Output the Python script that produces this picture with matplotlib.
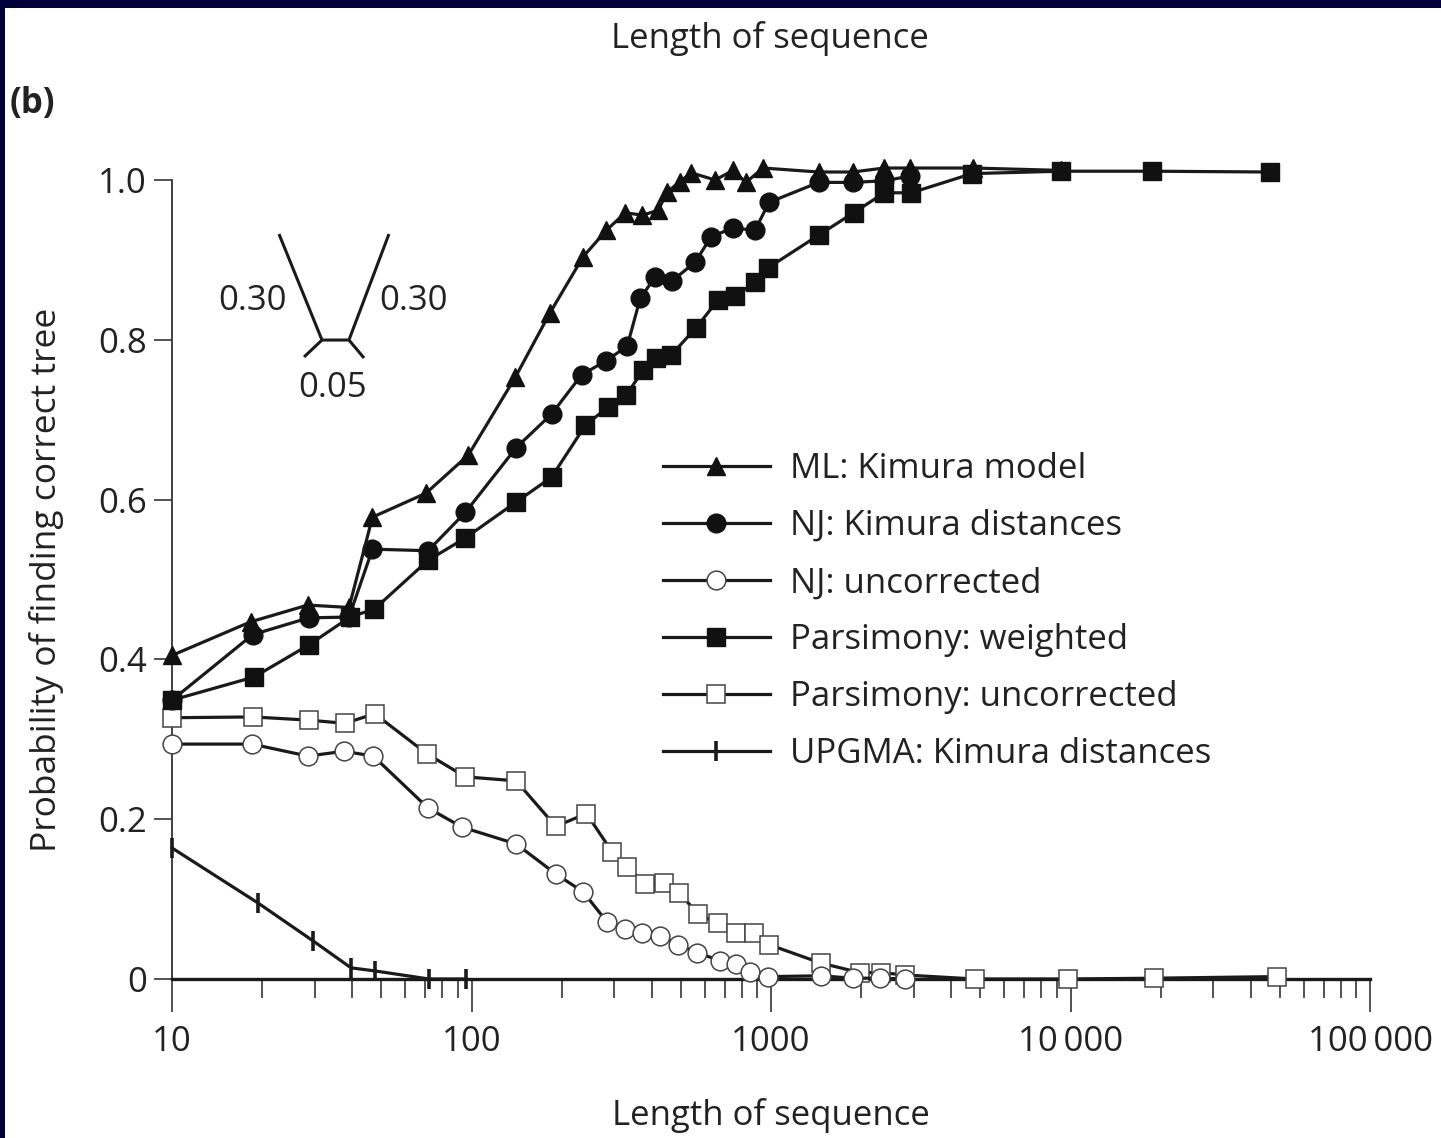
import matplotlib
matplotlib.use('Agg')
import matplotlib.pyplot as plt
from matplotlib.patches import Rectangle
from matplotlib.lines import Line2D
from matplotlib.ticker import LogLocator, NullFormatter

plt.rcParams['font.family'] = ['Open Sans', 'DejaVu Sans']

# ---------------- data ----------------
ml_x = [10, 18.3, 28.4, 39.0, 46.7, 70.5, 97.7, 140, 183, 236, 282, 326, 372, 420,
        450, 497, 541, 651, 747, 825, 940, 1443, 1873, 2391, 2918, 4725, 9265]
ml_y = [0.405, 0.447, 0.468, 0.465, 0.578, 0.608, 0.656, 0.753, 0.834, 0.904, 0.937,
        0.959, 0.956, 0.962, 0.985, 0.998, 1.009, 1.0, 1.012, 0.997, 1.015, 1.01,
        1.01, 1.015, 1.015, 1.015, 1.012]

nj_x = [10, 18.6, 28.6, 39.0, 46.7, 71.6, 95.4, 141, 185, 233, 282, 331, 366, 411,
        468, 558, 631, 747, 884, 985, 1443, 1873, 2391, 2918]
nj_y = [0.349, 0.431, 0.452, 0.453, 0.538, 0.536, 0.584, 0.665, 0.707, 0.756, 0.774,
        0.792, 0.852, 0.879, 0.874, 0.897, 0.929, 0.940, 0.937, 0.972, 0.997, 0.997,
        0.999, 1.005]

nju_x = [10, 18.5, 28.4, 37.5, 47.0, 71.6, 93.1, 141, 192, 236, 284, 326, 372, 427,
         490, 566, 675, 763, 850, 977, 1466, 1873, 2320, 2810]
nju_y = [0.294, 0.294, 0.279, 0.285, 0.279, 0.214, 0.190, 0.169, 0.131, 0.109, 0.071,
         0.063, 0.058, 0.054, 0.043, 0.033, 0.023, 0.019, 0.009, 0.003, 0.004, 0.001,
         0.001, 0.0]

pw_x = [10, 18.8, 28.6, 39.3, 47.4, 71.6, 95.4, 141, 185, 240, 286, 329, 374, 414,
        464, 562, 666, 759, 884, 977, 1443, 1887, 2391, 2940, 4690, 9265, 18680, 46300]
pw_y = [0.349, 0.378, 0.418, 0.453, 0.463, 0.524, 0.552, 0.597, 0.628, 0.693, 0.716,
        0.731, 0.762, 0.777, 0.781, 0.815, 0.850, 0.855, 0.872, 0.890, 0.931, 0.959,
        0.984, 0.984, 1.008, 1.011, 1.011, 1.010]

pu_x = [10, 18.6, 28.6, 37.8, 47.5, 70.9, 95.4, 141, 191, 242, 295, 331, 380, 440,
        494, 571, 666, 763, 878, 985, 1466, 1976, 2336, 2810, 4794, 9773, 18970, 48790]
pu_y = [0.327, 0.328, 0.324, 0.320, 0.332, 0.282, 0.253, 0.248, 0.191, 0.207, 0.159,
        0.140, 0.119, 0.120, 0.108, 0.081, 0.070, 0.058, 0.058, 0.043, 0.020, 0.008,
        0.008, 0.005, 0.0, 0.0, 0.001, 0.003]

up_x = [10, 19.4, 29.5, 39.6, 47.8, 72.1, 96.1]
up_y = [0.164, 0.095, 0.048, 0.014, 0.010, 0.0, 0.0]

labels = ['ML: Kimura model', 'NJ: Kimura distances', 'NJ: uncorrected',
          'Parsimony: weighted', 'Parsimony: uncorrected', 'UPGMA: Kimura distances']

x_ticks = [10, 100, 1000, 10000, 100000]
x_ticklabels = ['10', '100', '1000', '10\u2009000', '100\u2009000']
y_ticks = [0, 0.2, 0.4, 0.6, 0.8, 1.0]
y_ticklabels = ['0', '0.2', '0.4', '0.6', '0.8', '1.0']

# ---------------- figure ----------------
W, H = 1441, 1138
fig = plt.figure(figsize=(W / 100, H / 100), dpi=100, facecolor='#00003a')
fig.patches.append(Rectangle((5 / W, 0), (W - 5) / W, (H - 8) / H,
                             transform=fig.transFigure, facecolor='white',
                             edgecolor='none', zorder=-10))

ax = fig.add_axes([172 / W, (H - 979) / H, 1198 / W, 799 / H])
ax.set_facecolor('none')
ax.set_xscale('log')
ax.set_xlim(10, 1e5)
ax.set_ylim(0, 1)

INK = '#1a1a1a'
TXT = '#222222'
LW = 2.3
FS = 25

common = dict(color=INK, lw=LW, clip_on=False)
ax.plot(pu_x, pu_y, marker='s', ms=13.5, mfc='white', mec='#444444', mew=1.1,
        zorder=3, **common)
ax.plot(nju_x, nju_y, marker='o', ms=13.5, mfc='white', mec='#444444', mew=1.1,
        zorder=3, **common)
ax.plot(up_x, up_y, marker='|', ms=15, mec=INK, mew=2.6, zorder=3, **common)
ax.plot(pw_x, pw_y, marker='s', ms=13, mfc='#111111', mec='#111111', mew=1,
        zorder=4, **common)
ax.plot(nj_x, nj_y, marker='o', ms=13.5, mfc='#111111', mec='#111111', mew=1,
        zorder=4, **common)
ax.plot(ml_x, ml_y, marker='^', ms=13, mfc='#111111', mec='#111111', mew=1,
        zorder=5, **common)

handles = [
    Line2D([], [], color=INK, lw=LW, marker='^', ms=13, mfc='#111111', mec='#111111'),
    Line2D([], [], color=INK, lw=LW, marker='o', ms=13.5, mfc='#111111', mec='#111111'),
    Line2D([], [], color=INK, lw=LW, marker='o', ms=13.5, mfc='white', mec='#444444', mew=1.1),
    Line2D([], [], color=INK, lw=LW, marker='s', ms=13, mfc='#111111', mec='#111111'),
    Line2D([], [], color=INK, lw=LW, marker='s', ms=13.5, mfc='white', mec='#444444', mew=1.1),
    Line2D([], [], color=INK, lw=LW, marker='|', ms=15, mec=INK, mew=2.6),
]
leg = ax.legend(handles, labels, loc='upper left',
                bbox_to_anchor=((663 - 172) / 1198, (979 - 452) / 799),
                frameon=False, fontsize=FS, handlelength=3.08, handletextpad=0.58,
                labelspacing=0.665, borderpad=0, borderaxespad=0, numpoints=1)
for t in leg.get_texts():
    t.set_color(TXT)

# spines & ticks
for s in ['top', 'right']:
    ax.spines[s].set_visible(False)
ax.spines['left'].set_linewidth(1.3)
ax.spines['left'].set_color('#333333')
ax.spines['bottom'].set_linewidth(2.4)
ax.spines['bottom'].set_color(INK)

ax.set_xticks(x_ticks)
ax.set_xticklabels(x_ticklabels)
ax.xaxis.set_minor_locator(LogLocator(base=10, subs=range(2, 10)))
ax.xaxis.set_minor_formatter(NullFormatter())
ax.set_yticks(y_ticks)
ax.set_yticklabels(y_ticklabels)
ax.tick_params(axis='x', which='major', direction='out', length=24, width=1.3,
               color='#444444', pad=9, labelsize=FS, labelcolor=TXT)
ax.tick_params(axis='x', which='minor', direction='out', length=14, width=1.3,
               color='#444444')
ax.tick_params(axis='y', direction='out', length=13, width=1.3, color='#444444',
               pad=5, labelsize=FS, labelcolor=TXT)

ax.set_xlabel('Length of sequence', fontsize=FS, color=TXT)
ax.xaxis.set_label_coords(0.5, (979 - 1098) / 799)
ax.set_ylabel('Probability of finding correct tree', fontsize=25.5, color=TXT)
ax.yaxis.set_label_coords((64 - 172) / 1198, 0.5)

fig.text(770 / W, 1 - 38 / H, 'Length of sequence', fontsize=FS, color=TXT,
         ha='center', va='center')
fig.text(10 / W, 1 - 104 / H, '(b)', fontsize=FS, fontweight='bold', color=TXT,
         ha='left', va='center')

# inset tree diagram (axes-fraction coordinates)
T = ax.transAxes
tree_kw = dict(color=INK, lw=2.2, transform=T, clip_on=False, solid_capstyle='butt')
ax.plot([0.0893, 0.1252, 0.1477, 0.1811], [0.9324, 0.7997, 0.7997, 0.9324], **tree_kw)
ax.plot([0.1252, 0.1102], [0.7997, 0.7785], **tree_kw)
ax.plot([0.1477, 0.1603], [0.7997, 0.7772], **tree_kw)
ax.text(0.0676, 0.8486, '0.30', transform=T, fontsize=FS, color=TXT, ha='center', va='center')
ax.text(0.2012, 0.8486, '0.30', transform=T, fontsize=FS, color=TXT, ha='center', va='center')
ax.text(0.1344, 0.7397, '0.05', transform=T, fontsize=FS, color=TXT, ha='center', va='center')

fig.savefig('out.png', dpi=100, facecolor=fig.get_facecolor())
